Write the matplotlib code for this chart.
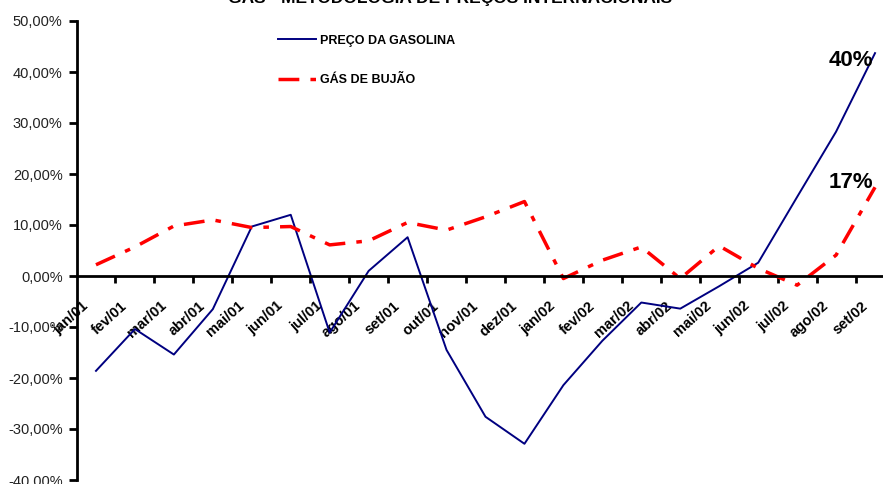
import matplotlib
matplotlib.use("Agg")
from matplotlib import pyplot as plt
from matplotlib.ticker import FuncFormatter
from matplotlib.transforms import ScaledTranslation

plt.rcParams['font.family'] = ['Liberation Sans', 'DejaVu Sans']
plt.rcParams['lines.scale_dashes'] = False

# meses e variação (%) de cada preço
meses = ["jan/01", "fev/01", "mar/01", "abr/01", "mai/01", "jun/01", "jul/01",
         "ago/01", "set/01", "out/01", "nov/01", "dez/01", "jan/02", "fev/02",
         "mar/02", "abr/02", "mai/02", "jun/02", "jul/02", "ago/02", "set/02"]
gasolina = [-18.6, -10.4, -15.4, -6.5, 9.7, 12.0, -11.1, 1.0, 7.6, -14.5, -27.6,
            -32.9, -21.4, -12.7, -5.2, -6.4, -2.0, 2.6, 15.5, 28.3, 43.7]
bujao = [2.2, 5.7, 9.8, 11.0, 9.5, 9.7, 6.1, 6.9, 10.5, 9.0, 11.6, 14.6, -0.5,
         3.1, 5.7, -0.5, 5.9, 1.5, -1.8, 4.1, 17.4]
rotulos_finais = ["40%", "17%"]

fig = plt.figure(figsize=(8.83, 4.84), dpi=100)
ax = fig.add_axes([76.5 / 883, 4 / 484, 818 / 883, 459 / 484])

x = [i + 0.5 for i in range(len(meses))]
ax.plot(x, gasolina, color="#000080", linewidth=1.4, label="PREÇO DA GASOLINA")
ax.plot(x, bujao, color="#ff0000", linewidth=2.5, dashes=(15, 8, 4, 8),
        label="GÁS DE BUJÃO")

ax.set_xlim(0, len(meses))
ax.set_ylim(-40, 50)

# eixo x passando pelo zero
for s in ["top", "right"]:
    ax.spines[s].set_visible(False)
ax.spines["bottom"].set_position(("data", 0))
ax.spines["bottom"].set_linewidth(2)
ax.spines["left"].set_linewidth(2)

ax.set_yticks(range(-40, 51, 10))
ax.yaxis.set_major_formatter(FuncFormatter(lambda v, p: "{:.2f}%".format(v).replace(".", ",")))
ax.tick_params(axis="y", direction="out", length=6, width=2, labelsize=10.5,
               labelcolor="#222222", pad=4)

# marcas entre os meses, rótulos no centro
ax.set_xticks(range(1, len(meses) + 1), minor=True)
ax.set_xticks(x)
ax.set_xticklabels(meses, rotation=42, ha="right", va="center",
                   rotation_mode="anchor", fontweight="bold", fontsize=10.5)
ax.tick_params(axis="x", which="major", length=0, pad=20)
ax.tick_params(axis="x", which="minor", direction="out", length=5, width=2)
desloca = ScaledTranslation(-7 / 72, 0, fig.dpi_scale_trans)
for lab in ax.get_xticklabels():
    lab.set_transform(lab.get_transform() + desloca)

ax.text(x[-1] - 0.05, 42.3, rotulos_finais[0], ha="right", va="center",
        fontsize=16, fontweight="bold")
ax.text(x[-1] - 0.05, 18.3, rotulos_finais[1], ha="right", va="center",
        fontsize=16, fontweight="bold")

ax.legend(loc="upper left", bbox_to_anchor=(0.233, 0.995), frameon=False,
          handlelength=3.0, handletextpad=0.3, labelspacing=2.2,
          prop={"weight": "bold", "size": 9})

fig.text(0.51, 0.9928, "GÁS - METODOLOGIA DE PREÇOS INTERNACIONAIS",
         ha="center", va="baseline", fontsize=12.5, fontweight="bold")

fig.savefig("out.png", dpi=100)
